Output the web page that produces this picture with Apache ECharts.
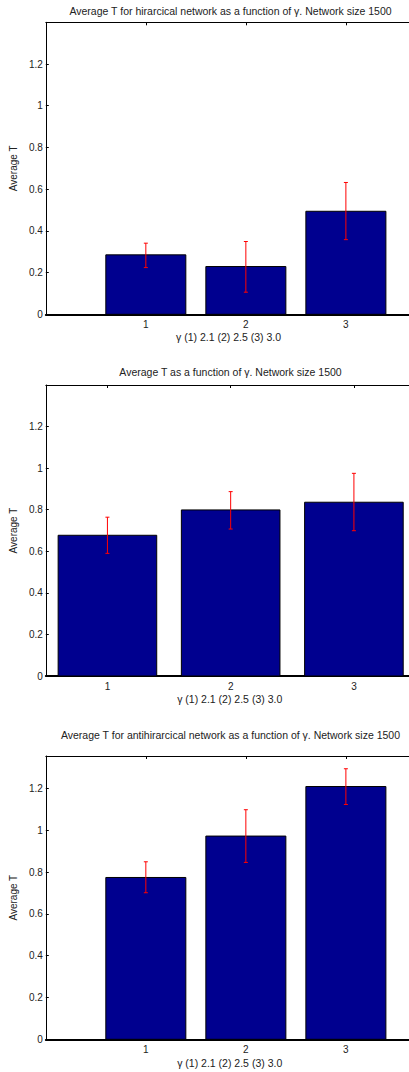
<!DOCTYPE html>
<html>
<head>
<meta charset="utf-8">
<title>Average T vs gamma</title>
<script src="https://cdn.jsdelivr.net/npm/echarts@6/dist/echarts.min.js"></script>
<style>
  html, body { margin: 0; padding: 0; background: #fff; }
  #chart { width: 409px; height: 1072px; }
</style>
</head>
<body>
<div id="chart"></div>
<script>
// Gamma settings on the x axis (1 = 2.1, 2 = 2.5, 3 = 3.0)
const categories = [1, 2, 3];
const tickLabels = ['1', '2', '3'];
const yTickValues = [0, 0.2, 0.4, 0.6, 0.8, 1, 1.2];
const yTickLabels = ['0', '0.2', '0.4', '0.6', '0.8', '1', '1.2'];

// Hierarchical network: mean T and error-bar ends
const hierMean = [0.285, 0.229, 0.494];
const hierLow  = [0.224, 0.106, 0.358];
const hierHigh = [0.341, 0.349, 0.632];

// All networks
const allMean = [0.677, 0.799, 0.836];
const allLow  = [0.590, 0.707, 0.699];
const allHigh = [0.764, 0.887, 0.975];

// Anti-hierarchical network
const antiMean = [0.774, 0.972, 1.209];
const antiLow  = [0.701, 0.846, 1.123];
const antiHigh = [0.849, 1.098, 1.294];

const titles = [
  'Average T for hirarcical network as a function of γ. Network size 1500',
  'Average T as a function of γ. Network size 1500',
  'Average T for antihirarcical network as a function of γ. Network size 1500'
];
const xName = 'γ (1) 2.1 (2) 2.5 (3) 3.0';
const yName = 'Average T';

const FONT = 'Liberation Sans, Arial, Helvetica, sans-serif';
const TEXT = '#222';
const BAR = '#00008F';

// Panel frames: the plot box runs past the right edge of the page,
// so each x range ends where the page is cut.
const panels = [
  { top: 22.3, height: 292, xMin: 0, xMax: 3.631, yMax: 1.4,
    titleY: 5.5, nameX: 228.5, nameY: 336.7,
    mean: hierMean, low: hierLow, high: hierHigh },
  { top: 385, height: 291, xMin: 0.5, xMax: 3.447, yMax: 1.4,
    titleY: 366.5, nameX: 229.7, nameY: 699.3,
    mean: allMean, low: allLow, high: allHigh },
  { top: 756, height: 283.3, xMin: 0, xMax: 3.631, yMax: 1.355,
    titleY: 729, nameX: 229.7, nameY: 1062.7,
    mean: antiMean, low: antiLow, high: antiHigh }
];

const grid = [], xAxis = [], yAxis = [], series = [], title = [], graphic = [];

function fmtY(v) {
  const i = yTickValues.findIndex(t => Math.abs(t - v) < 1e-6);
  return i >= 0 ? yTickLabels[i] : '';
}
function fmtX(v) {
  const i = categories.findIndex(c => Math.abs(c - v) < 1e-6);
  return i >= 0 ? tickLabels[i] : '';
}

panels.forEach((p, k) => {
  grid.push({ left: 45, right: 0, top: p.top, height: p.height, containLabel: false });

  // bottom axis with tick labels
  xAxis.push({
    type: 'value', gridIndex: k, position: 'bottom', min: p.xMin, max: p.xMax,
    axisLine: { show: true, onZero: false, lineStyle: { color: '#000', width: 2 } },
    axisTick: { show: true, inside: true, length: 3, customValues: categories, lineStyle: { color: '#000' } },
    axisLabel: { show: true, margin: 5, color: TEXT, fontFamily: FONT, fontSize: 10,
                 customValues: categories, formatter: fmtX },
    splitLine: { show: false }
  });
  // top frame edge with inward ticks
  xAxis.push({
    type: 'value', gridIndex: k, position: 'top', min: p.xMin, max: p.xMax,
    axisLine: { show: true, onZero: false, lineStyle: { color: '#000', width: 1 } },
    axisTick: { show: true, inside: true, length: 3, customValues: categories, lineStyle: { color: '#000' } },
    axisLabel: { show: false },
    splitLine: { show: false }
  });

  yAxis.push({
    type: 'value', gridIndex: k, min: 0, max: p.yMax,
    name: yName, nameLocation: 'middle', nameGap: 21,
    nameTextStyle: { color: TEXT, fontFamily: FONT, fontSize: 10 },
    axisLine: { show: true, onZero: false, lineStyle: { color: '#000', width: 1 } },
    axisTick: { show: true, inside: true, length: 3, customValues: yTickValues, lineStyle: { color: '#000' } },
    axisLabel: { show: true, margin: 3, color: TEXT, fontFamily: FONT, fontSize: 10,
                 customValues: yTickValues, formatter: fmtY },
    splitLine: { show: false }
  });

  title.push({
    text: titles[k], left: 230.5, top: p.titleY, textAlign: 'center', padding: 0,
    textStyle: { color: TEXT, fontFamily: FONT, fontSize: 10.5, fontWeight: 'normal' }
  });

  graphic.push({
    type: 'text', x: p.nameX, y: p.nameY, silent: true,
    style: { text: xName, fill: TEXT, font: '10.5px ' + FONT, textAlign: 'center', textVerticalAlign: 'middle' }
  });

  // bars of width 0.8 category units
  series.push({
    type: 'custom', xAxisIndex: 2 * k, yAxisIndex: k, z: 3,
    data: categories.map((c, i) => [c, p.mean[i]]),
    encode: { x: 0, y: 1 },
    renderItem: function (params, api) {
      const x = api.value(0), y = api.value(1);
      const a = api.coord([x - 0.4, y]);
      const b = api.coord([x + 0.4, 0]);
      return {
        type: 'rect',
        shape: { x: a[0], y: a[1], width: b[0] - a[0], height: b[1] - a[1] },
        style: { fill: BAR, stroke: '#000', lineWidth: 1 }
      };
    }
  });

  // red error bars with small caps
  series.push({
    type: 'custom', xAxisIndex: 2 * k, yAxisIndex: k, z: 4,
    data: categories.map((c, i) => [c, p.low[i], p.high[i]]),
    encode: { x: 0, y: [1, 2] },
    renderItem: function (params, api) {
      const x = api.value(0);
      const lo = api.coord([x, api.value(1)]);
      const hi = api.coord([x, api.value(2)]);
      const cap = 2;
      const st = { stroke: '#FF0000', lineWidth: 1 };
      return {
        type: 'group',
        children: [
          { type: 'line', shape: { x1: lo[0], y1: lo[1], x2: hi[0], y2: hi[1] }, style: st },
          { type: 'line', shape: { x1: hi[0] - cap, y1: hi[1], x2: hi[0] + cap, y2: hi[1] }, style: st },
          { type: 'line', shape: { x1: lo[0] - cap, y1: lo[1], x2: lo[0] + cap, y2: lo[1] }, style: st }
        ]
      };
    }
  });
});

const chart = echarts.init(document.getElementById('chart'), null, { renderer: 'svg', width: 409, height: 1072 });
chart.setOption({
  backgroundColor: '#fff',
  animation: false,
  title, grid, xAxis, yAxis, series, graphic
});
</script>
</body>
</html>
